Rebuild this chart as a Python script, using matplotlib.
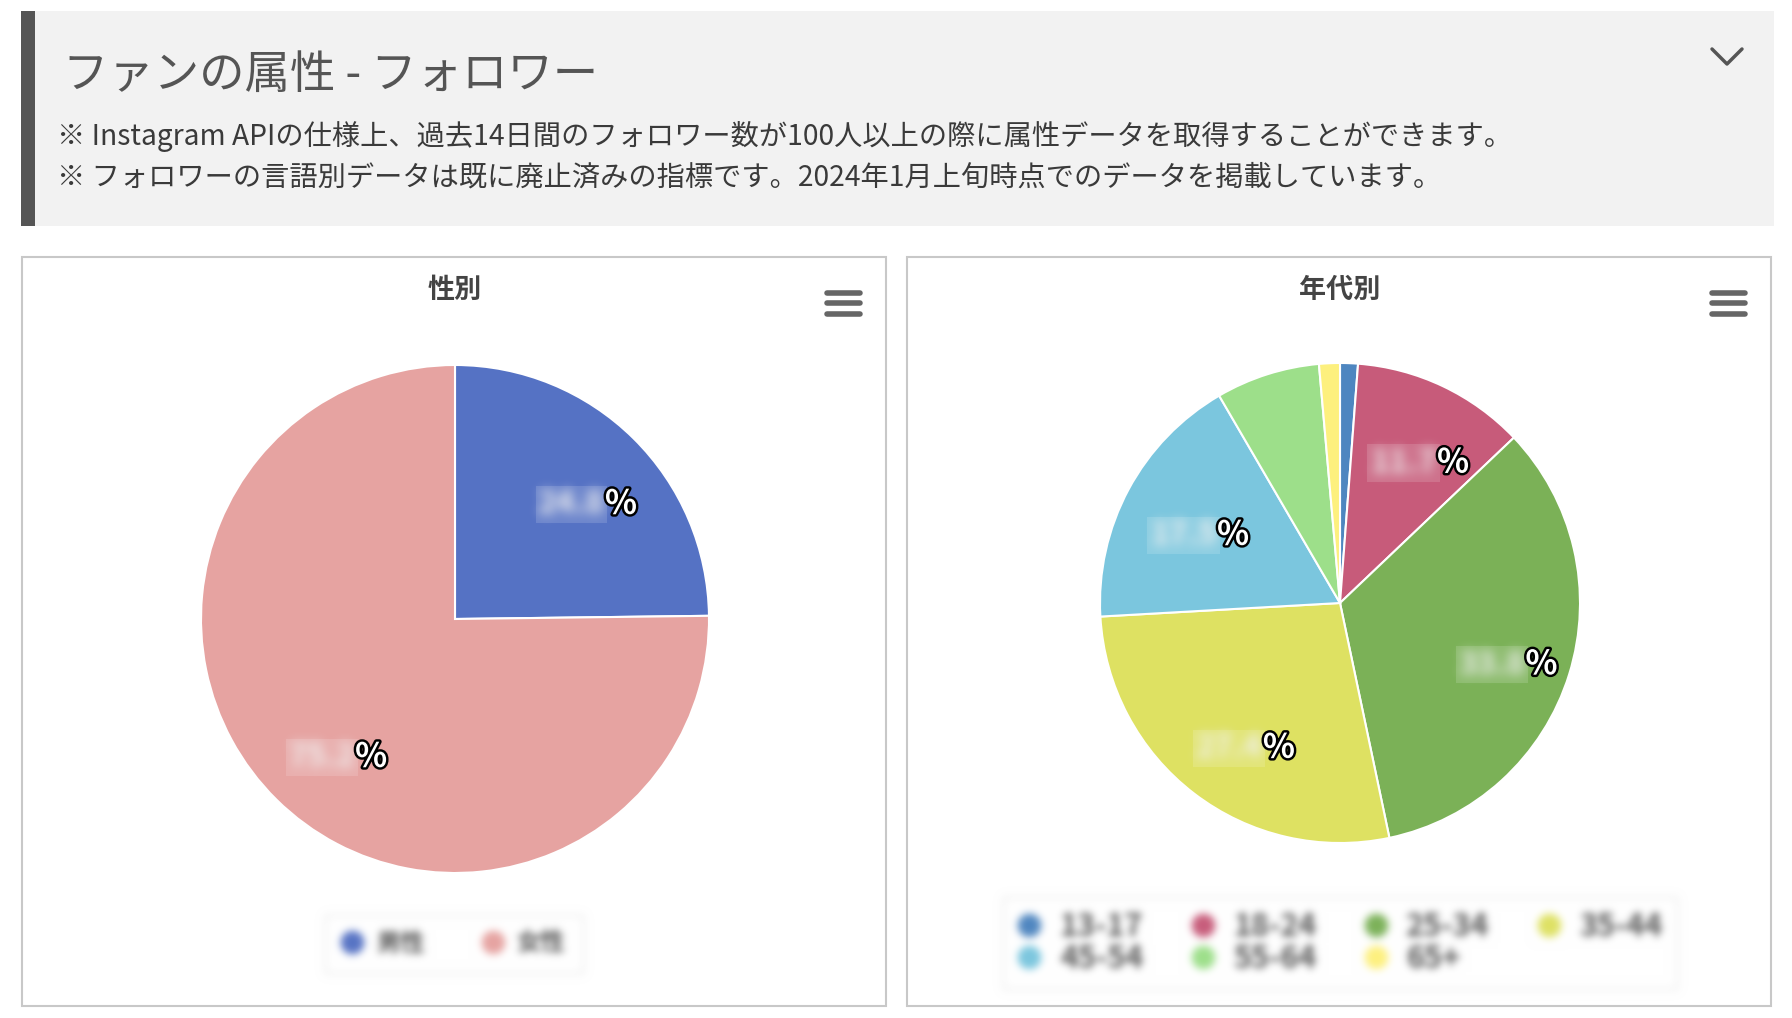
import numpy as np
import matplotlib
matplotlib.use('Agg')
import matplotlib.pyplot as plt
import matplotlib.patheffects as pe
from matplotlib.patches import Rectangle
from matplotlib.lines import Line2D

plt.rcParams['font.family'] = ['Noto Sans CJK JP', 'DejaVu Sans']

W, H = 1792, 1018

page_title = 'ファンの属性 - フォロワー'
notes = ['※ Instagram APIの仕様上、過去14日間のフォロワー数が100人以上の際に属性データを取得することができます。',
         '※ フォロワーの言語別データは既に廃止済みの指標です。2024年1月上旬時点でのデータを掲載しています。']

gender_title = '性別'
gender_labels = ['男性', '女性']
gender_share = [24.8, 75.2]
gender_colors = ['#5572c4', '#e6a3a1']

age_title = '年代別'
age_labels = ['13-17', '18-24', '25-34', '35-44', '45-54', '55-64', '65+']
age_share = [1.2, 11.7, 33.8, 27.4, 17.5, 7.0, 1.4]
age_colors = ['#4e86c0', '#c75b7a', '#7bb157', '#dee162', '#7bc6de', '#9ddf8a', '#fdf07e']


def blur(sigma):
    # gaussian blur for agg_filter (premultiplied so colours don't go dark)
    def f(im, dpi):
        pad = int(3 * sigma) + 1
        a = np.pad(im, [(pad, pad), (pad, pad), (0, 0)])
        alpha = a[..., 3:4]
        stack = np.concatenate([a[..., :3] * alpha, alpha], axis=2)
        k = np.exp(-0.5 * (np.arange(-pad, pad + 1) / sigma) ** 2)
        k /= k.sum()
        for axis in (0, 1):
            stack = np.apply_along_axis(np.convolve, axis, stack, k, mode='same')
        al = np.clip(stack[..., 3], 0, 1)
        rgb = stack[..., :3] / np.maximum(al, 1e-6)[..., None]
        return np.dstack([np.clip(rgb, 0, 1), al]), -pad, -pad
    return f


def draw_pie(fig, cx, cy, r, values, colors):
    ax = fig.add_axes([(cx - r) / W, 1 - (cy + r) / H, 2 * r / W, 2 * r / H], zorder=2)
    wedges, _ = ax.pie(values, colors=colors, startangle=90, counterclock=False,
                       wedgeprops=dict(edgecolor='white', linewidth=1.5))
    ax.set_xlim(-1, 1)
    ax.set_ylim(-1, 1)
    ax.set_axis_off()
    for w, v in zip(wedges, values):
        w.set_clip_on(False)
        if v < 10:
            continue
        ang = np.deg2rad((w.theta1 + w.theta2) / 2)
        x, y = 0.7 * np.cos(ang), 0.7 * np.sin(ang)
        off = (18, -8.5)
        # light patch left by the blurred number
        ax.annotate(f'{v:.1f}', (x, y), xytext=off, textcoords='offset points',
                    ha='right', va='center', fontsize=23, fontweight='bold', color='none',
                    bbox=dict(boxstyle='square,pad=0.08', fc='white', ec='none', alpha=0.14))
        t = ax.annotate(f'{v:.1f}', (x, y), xytext=off, textcoords='offset points',
                        ha='right', va='center', fontsize=23, fontweight='bold', color='#f2f2f2')
        t.set_agg_filter(blur(4))
        ax.annotate('%', (x, y), xytext=off, textcoords='offset points',
                    ha='left', va='center', fontsize=24, fontweight='bold', color='white',
                    path_effects=[pe.withStroke(linewidth=3.5, foreground='black')])
    return ax


def draw_legend(fig, labels, colors, cx, cy, ncol, order, size, colsp, bpad):
    handles = [Line2D([], [], ls='none', marker='o', ms=16, mfc=c, mec=c) for c in colors]
    leg = fig.legend([handles[i] for i in order], [labels[i] for i in order],
                     loc='center', bbox_to_anchor=(cx / W, 1 - cy / H), ncol=ncol,
                     prop=dict(weight='bold', size=size), labelcolor='#555555',
                     handlelength=0.8, handletextpad=0.6, columnspacing=colsp,
                     labelspacing=0.0, fancybox=False, framealpha=1,
                     edgecolor='#e4e4e4', borderpad=bpad)
    leg.set_agg_filter(blur(4))
    return leg


fig = plt.figure(figsize=(W / 100, H / 100), dpi=100)
bg = fig.add_axes([0, 0, 1, 1], zorder=0)
bg.set_xlim(0, W)
bg.set_ylim(H, 0)
bg.set_axis_off()

# header
bg.add_patch(Rectangle((21, 11), 1753, 215, facecolor='#f2f2f2', edgecolor='none'))
bg.add_patch(Rectangle((21, 11), 14, 215, facecolor='#555555', edgecolor='none'))
bg.text(63, 75, page_title, fontsize=32.7, color='#555555', va='center', ha='left')
bg.text(57, 137, notes[0], fontsize=20.3, color='#3a3a3a', va='center', ha='left')
bg.text(57, 178, notes[1], fontsize=20.3, color='#3a3a3a', va='center', ha='left')
bg.plot([1712, 1727, 1742], [49, 64, 49], color='#555555', lw=2.5, solid_capstyle='round')

# chart panels
for x0, title in [(22, gender_title), (907, age_title)]:
    bg.add_patch(Rectangle((x0, 257), 864, 749, facecolor='white', edgecolor='#c8c8c8', lw=1.5))
    bg.text(x0 + 433, 290, title, fontsize=19.5, fontweight='bold', color='#444444',
            ha='center', va='center')
    for yy in (293, 303, 314):
        bg.plot([x0 + 805, x0 + 838], [yy, yy], color='#666666', lw=4, solid_capstyle='round')

draw_pie(fig, 455, 619, 254, gender_share, gender_colors)
draw_pie(fig, 1340, 603, 240, age_share, age_colors)

draw_legend(fig, gender_labels, gender_colors, 454, 944, 2, [0, 1], 17.5, 2.4, 0.7)
draw_legend(fig, age_labels, age_colors, 1340, 943, 4, [0, 4, 1, 5, 2, 6, 3], 22, 1.54, 0.45)

fig.savefig('out.png', dpi=100)
